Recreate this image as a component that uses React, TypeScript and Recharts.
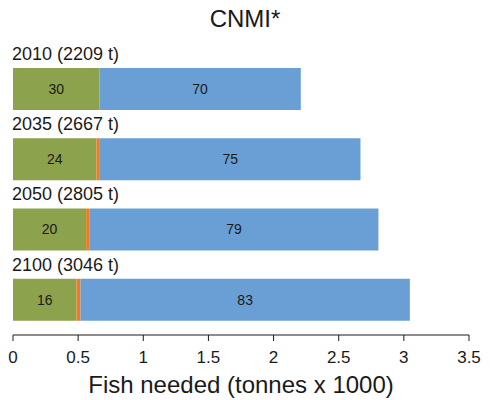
import React from 'react';
import { BarChart, Bar, XAxis, YAxis, LabelList, Label } from 'recharts';

const years = ['2010', '2035', '2050', '2100'];
const totals = [2209, 2667, 2805, 3046];
const greenPct = [30, 24, 20, 16];
const orangePct = [0, 1, 1, 1];
const bluePct = [70, 75, 79, 83];
const xTicks = [0, 0.5, 1, 1.5, 2, 2.5, 3, 3.5];

const data = years.map((year, i) => ({
  name: `${year} (${totals[i]} t)`,
  green: (totals[i] * greenPct[i]) / 100000,
  orange: (totals[i] * orangePct[i]) / 100000,
  blue: (totals[i] * bluePct[i]) / 100000,
  greenPct: greenPct[i],
  bluePct: bluePct[i],
}));

const font = 'Liberation Sans, Arial, sans-serif';

// year label sitting above each bar, left aligned
const YearLabel = (props: any) => {
  const { x, y, value } = props;
  return (
    <text x={x - 1} y={y - 13} fill="#1a1a1a" fontSize={18} fontFamily={font} dominantBaseline="middle">
      {value}
    </text>
  );
};

export default function App() {
  return (
    <div style={{ position: 'absolute', left: 0, top: 0, width: 490, height: 400, background: '#fff' }}>
      <div
        style={{
          position: 'absolute',
          top: 5,
          left: 0,
          width: 490,
          textAlign: 'center',
          fontFamily: font,
          fontSize: 24,
          color: '#1a1a1a',
        }}
      >
        CNMI*
      </div>
      <BarChart
        width={490}
        height={400}
        data={data}
        layout="vertical"
        margin={{ top: 54, right: 21, bottom: 0, left: 13 }}
      >
        <XAxis
          type="number"
          domain={[0, 3.5]}
          ticks={xTicks}
          interval={0}
          height={65}
          stroke="#1a1a1a"
          tickSize={6}
          tickMargin={10}
          tick={{ fill: '#1a1a1a', fontSize: 17, fontFamily: font }}
        >
          <Label
            value="Fish needed (tonnes x 1000)"
            position="insideBottom"
            offset={7}
            style={{ fill: '#1a1a1a', fontSize: 24, fontFamily: font }}
          />
        </XAxis>
        <YAxis type="category" dataKey="name" hide />
        <Bar dataKey="green" stackId="a" fill="#8DA24D" barSize={42} isAnimationActive={false}>
          <LabelList dataKey="greenPct" position="center" fill="#1a1a1a" fontSize={14} fontFamily={font} />
          <LabelList dataKey="name" content={<YearLabel />} />
        </Bar>
        <Bar dataKey="orange" stackId="a" fill="#EE7D22" barSize={42} isAnimationActive={false} />
        <Bar dataKey="blue" stackId="a" fill="#6A9FD5" barSize={42} isAnimationActive={false}>
          <LabelList dataKey="bluePct" position="center" fill="#1a1a1a" fontSize={14} fontFamily={font} />
        </Bar>
      </BarChart>
    </div>
  );
}
